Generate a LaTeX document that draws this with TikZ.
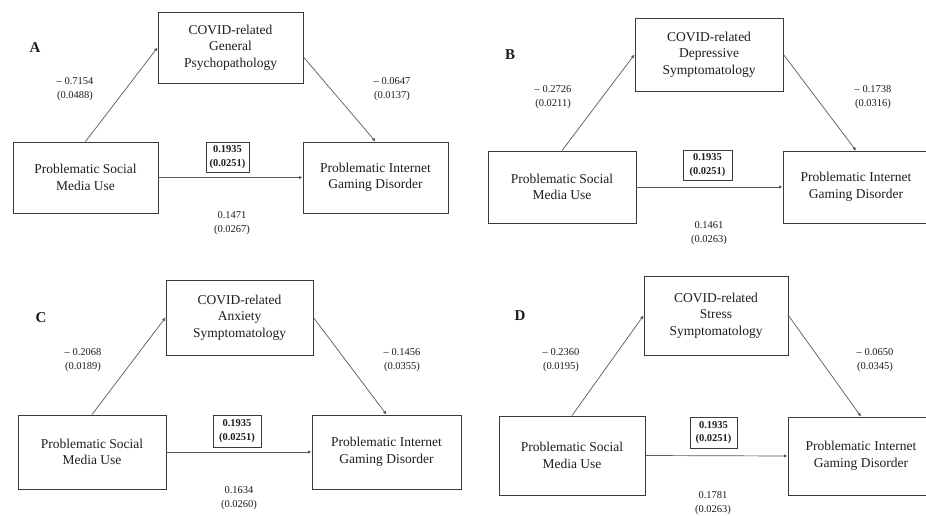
\documentclass[tikz,border=0pt]{standalone}
\usepackage{fontspec}
\setmainfont{Liberation Serif}
\usetikzlibrary{arrows.meta}
\definecolor{ink}{HTML}{1E1E1E}
\definecolor{boxline}{HTML}{3A3A3A}
\definecolor{arrowline}{HTML}{5A5A5A}
\tikzset{
  vbox/.style={draw=boxline, line width=0.9pt, align=center, inner sep=0pt, text=ink,
    font=\fontsize{13.5}{16.5}\selectfont},
  coef/.style={align=center, inner sep=0pt, text=ink, font=\fontsize{10.5}{13.5}\selectfont},
  boldcoef/.style={draw=boxline, line width=0.9pt, align=center, inner sep=0pt, text=ink,
    font=\fontsize{10.5}{13.5}\selectfont\bfseries},
  plabel/.style={inner sep=0pt, text=ink, font=\fontsize{15}{18}\selectfont\bfseries},
  path arrow/.style={draw=arrowline, line width=0.7pt, -{Latex[length=3.5pt,width=3.5pt]}},
}
\begin{document}
\begin{tikzpicture}[x=1pt,y=-1pt]
\useasboundingbox (0,0) rectangle (926,516);
\clip (0,0) rectangle (926,516);
\fill[white] (0,0) rectangle (926,516);

% ---------- Panel A ----------
\node[plabel] (labA) at (35,48) {A};
\node[vbox, minimum width=145pt, minimum height=71pt] (tA) at (230.5,47.5) {COVID-related\\General\\Psychopathology};
\node[vbox, minimum width=145pt, minimum height=71pt] (lA) at (85.5,177.5) {Problematic Social\\Media Use};
\node[vbox, minimum width=145pt, minimum height=71pt] (rA) at (375.5,177.5) {Problematic Internet\\Gaming Disorder};
\node[boldcoef, minimum width=43pt, minimum height=30pt] (bA) at (227.5,157) {0.1935\\(0.0251)};
\node[coef] (aA) at (75,89) {– 0.7154\\(0.0488)};
\node[coef] (cA) at (392,89) {– 0.0647\\(0.0137)};
\node[coef] (dA) at (232,223) {0.1471\\(0.0267)};
\draw[path arrow] (lA.north) -- (tA.west);
\draw[path arrow] ([yshift=-9.5pt]tA.east) -- (rA.north);
\draw[path arrow] (lA.east) -- (rA.west);

% ---------- Panel B ----------
\node[plabel] (labB) at (510,55) {B};
\node[vbox, minimum width=148pt, minimum height=73pt] (tB) at (709,54.5) {COVID-related\\Depressive\\Symptomatology};
\node[vbox, minimum width=148pt, minimum height=72pt] (lB) at (562,187) {Problematic Social\\Media Use};
\node[vbox, minimum width=146pt, minimum height=72pt] (rB) at (856,187) {Problematic Internet\\Gaming Disorder};
\node[boldcoef, minimum width=49pt, minimum height=30pt] (bB) at (707.5,165) {0.1935\\(0.0251)};
\node[coef] (aB) at (553,97) {– 0.2726\\(0.0211)};
\node[coef] (cB) at (873,97) {– 0.1738\\(0.0316)};
\node[coef] (dB) at (709,233) {0.1461\\(0.0263)};
\draw[path arrow] (lB.north) -- (tB.west);
\draw[path arrow] (tB.east) -- (rB.north);
\draw[path arrow] (lB.east) -- (rB.west);

% ---------- Panel C ----------
\node[plabel] (labC) at (41,318) {C};
\node[vbox, minimum width=147pt, minimum height=75pt] (tC) at (239.5,317.5) {COVID-related\\Anxiety\\Symptomatology};
\node[vbox, minimum width=148pt, minimum height=74pt] (lC) at (92,452) {Problematic Social\\Media Use};
\node[vbox, minimum width=149pt, minimum height=74pt] (rC) at (386.5,452) {Problematic Internet\\Gaming Disorder};
\node[boldcoef, minimum width=48pt, minimum height=32pt] (bC) at (237,431) {0.1935\\(0.0251)};
\node[coef] (aC) at (83,360) {– 0.2068\\(0.0189)};
\node[coef] (cC) at (402,360) {– 0.1456\\(0.0355)};
\node[coef] (dC) at (239,498) {0.1634\\(0.0260)};
\draw[path arrow] (lC.north) -- (tC.west);
\draw[path arrow] (tC.east) -- (rC.north);
\draw[path arrow] (lC.east) -- (rC.west);

% ---------- Panel D ----------
\node[plabel] (labD) at (520,316) {D};
\node[vbox, minimum width=144pt, minimum height=79pt] (tD) at (716,315.5) {COVID-related\\Stress\\Symptomatology};
\node[vbox, minimum width=146pt, minimum height=79pt] (lD) at (572,455.5) {Problematic Social\\Media Use};
\node[vbox, minimum width=146pt, minimum height=78pt] (rD) at (861,456) {Problematic Internet\\Gaming Disorder};
\node[boldcoef, minimum width=47pt, minimum height=31pt] (bD) at (713.5,432.5) {0.1935\\(0.0251)};
\node[coef] (aD) at (561,360) {– 0.2360\\(0.0195)};
\node[coef] (cD) at (875,360) {– 0.0650\\(0.0345)};
\node[coef] (dD) at (713,503) {0.1781\\(0.0263)};
\draw[path arrow] (lD.north) -- (tD.west);
\draw[path arrow] (tD.east) -- (rD.north);
\draw[path arrow] (lD.east) -- (rD.west);
\end{tikzpicture}
\end{document}
